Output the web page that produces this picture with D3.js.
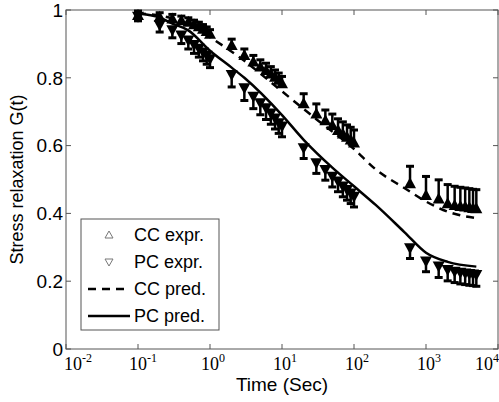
<!DOCTYPE html>
<html>
<head>
<meta charset="utf-8">
<script src="https://cdn.jsdelivr.net/npm/d3@7"></script>
<style>
  body { margin: 0; background: #fff; }
  svg { display: block; }
  text { font-family: "Liberation Sans", Arial, sans-serif; fill: #000; }
  .xtick { font-family: "Liberation Serif", "Times New Roman", serif; }
</style>
</head>
<body>
<div id="chart"></div>
<script>
// sample times (s), shared by both experiments
const times = [0.1, 0.2, 0.3, 0.4, 0.5, 0.6, 0.7, 0.8, 0.9, 1,
  2, 3, 4, 5, 6, 7, 8, 9, 10,
  20, 30, 40, 50, 60, 70, 80, 90, 100,
  600, 1000, 1500, 2000, 2500, 3000, 3500, 4000, 4500, 5000];

const ccExpr = [0.985, 0.98, 0.975, 0.97, 0.965, 0.958, 0.952, 0.945, 0.938, 0.93,
  0.897, 0.867, 0.848, 0.833, 0.823, 0.813, 0.803, 0.794, 0.784,
  0.725, 0.695, 0.675, 0.661, 0.646, 0.636, 0.626, 0.618, 0.609,
  0.489, 0.454, 0.444, 0.43, 0.425, 0.422, 0.42, 0.418, 0.416, 0.415];
const ccErr = [0.012, 0.012, 0.012, 0.012, 0.012, 0.012, 0.012, 0.012, 0.012, 0.012,
  0.017, 0.018, 0.018, 0.02, 0.02, 0.02, 0.02, 0.02, 0.02,
  0.028, 0.028, 0.03, 0.032, 0.033, 0.034, 0.035, 0.036, 0.037,
  0.05, 0.055, 0.055, 0.055, 0.055, 0.055, 0.055, 0.055, 0.055, 0.055];

const pcExpr = [0.98, 0.955, 0.94, 0.925, 0.91, 0.897, 0.886, 0.875, 0.865, 0.855,
  0.808, 0.769, 0.744, 0.725, 0.71, 0.695, 0.68, 0.666, 0.656,
  0.592, 0.548, 0.528, 0.508, 0.494, 0.479, 0.469, 0.459, 0.449,
  0.297, 0.258, 0.243, 0.233, 0.228, 0.225, 0.223, 0.221, 0.22, 0.218];
const pcErr = [0.012, 0.02, 0.022, 0.024, 0.025, 0.025, 0.025, 0.025, 0.025, 0.025,
  0.035, 0.036, 0.035, 0.034, 0.033, 0.032, 0.031, 0.03, 0.03,
  0.03, 0.03, 0.03, 0.03, 0.03, 0.03, 0.03, 0.03, 0.03,
  0.03, 0.03, 0.032, 0.032, 0.032, 0.033, 0.033, 0.033, 0.033, 0.033];

// model predictions
const ccPredT = [0.1, 0.3, 0.6, 1, 3, 10, 30, 100, 200, 500, 1000, 2000, 5000];
const ccPredG = [0.99, 0.975, 0.95, 0.92, 0.85, 0.76, 0.678, 0.59, 0.53, 0.475, 0.435, 0.405, 0.386];
const pcPredT = [0.1, 0.2, 0.3, 0.5, 1, 2, 3, 10, 20, 50, 100, 200, 500, 1000, 2000, 5000];
const pcPredG = [0.99, 0.978, 0.96, 0.94, 0.88, 0.83, 0.80, 0.69, 0.617, 0.535, 0.48, 0.425, 0.345, 0.284, 0.257, 0.243];

const xTicks = [-2, -1, 0, 1, 2, 3, 4];
const yTicks = [0, 0.2, 0.4, 0.6, 0.8, 1];
const legendLabels = ['CC expr.', 'PC expr.', 'CC pred.', 'PC pred.'];

const W = 499, H = 402;
const margin = { left: 66, right: 1, top: 10, bottom: 53 };

const svg = d3.select('#chart').append('svg')
  .attr('width', W)
  .attr('height', H);

const x = d3.scaleLog().domain([1e-2, 1e4]).range([margin.left, W - margin.right]);
const y = d3.scaleLinear().domain([0, 1]).range([H - margin.bottom, margin.top]);

const frameColor = '#555';

// frame
svg.append('rect')
  .attr('x', x.range()[0]).attr('y', y(1))
  .attr('width', x.range()[1] - x.range()[0])
  .attr('height', y(0) - y(1))
  .attr('fill', 'none')
  .attr('stroke', frameColor)
  .attr('stroke-width', 1);

// ticks pointing inward on all four sides
xTicks.forEach(e => {
  const px = x(Math.pow(10, e));
  svg.append('line').attr('x1', px).attr('x2', px).attr('y1', y(0)).attr('y2', y(0) - 5)
    .attr('stroke', frameColor);
  svg.append('line').attr('x1', px).attr('x2', px).attr('y1', y(1)).attr('y2', y(1) + 5)
    .attr('stroke', frameColor);
});
yTicks.forEach(v => {
  svg.append('line').attr('x1', x.range()[0]).attr('x2', x.range()[0] + 5).attr('y1', y(v)).attr('y2', y(v))
    .attr('stroke', frameColor);
  svg.append('line').attr('x1', x.range()[1]).attr('x2', x.range()[1] - 5).attr('y1', y(v)).attr('y2', y(v))
    .attr('stroke', frameColor);
});

// x tick labels 10^n, kept inside the figure
xTicks.forEach(e => {
  const px = x(Math.pow(10, e));
  const t = svg.append('text')
    .attr('class', 'xtick')
    .attr('y', 370)
    .style('font-size', '18px');
  t.append('tspan').text('10');
  t.append('tspan').attr('dy', -8).style('font-size', '12px').text(String(e));
  const w = t.node().getComputedTextLength();
  let lx = px - 9;
  lx = Math.max(64, Math.min(W - w, lx));
  t.attr('x', lx);
});

// y tick labels
svg.selectAll('.ytick')
  .data(yTicks)
  .enter()
  .append('text')
  .attr('class', 'ytick')
  .attr('x', x.range()[0] - 3)
  .attr('y', d => y(d))
  .attr('dy', '0.36em')
  .attr('text-anchor', 'end')
  .style('font-size', '19px')
  .text(d => d3.format('~g')(d));

// axis titles
svg.append('text')
  .attr('x', (x.range()[0] + x.range()[1]) / 2)
  .attr('y', 391)
  .attr('text-anchor', 'middle')
  .style('font-size', '19px')
  .text('Time (Sec)');
svg.append('text')
  .attr('transform', 'translate(23,' + ((y(0) + y(1)) / 2) + ') rotate(-90)')
  .attr('text-anchor', 'middle')
  .style('font-size', '18px')
  .text('Stress relaxation G(t)');

// error bars + markers
const capW = 4;
function drawSeries(vals, errs, dir) {
  const g = svg.append('g');
  times.forEach((t, i) => {
    const px = x(t), py = y(vals[i]), pe = y(vals[i] + dir * errs[i]);
    g.append('line').attr('x1', px).attr('x2', px).attr('y1', py).attr('y2', pe)
      .attr('stroke', '#000').attr('stroke-width', 2.5);
    g.append('line').attr('x1', px - capW).attr('x2', px + capW).attr('y1', pe).attr('y2', pe)
      .attr('stroke', '#000').attr('stroke-width', 3);
  });
  g.selectAll('path')
    .data(times)
    .enter()
    .append('path')
    .attr('fill', '#000')
    .attr('d', (t, i) => {
      const px = x(t), py = y(vals[i]);
      // dir 1 => up triangle, -1 => down triangle
      return 'M' + (px - 6) + ',' + (py + 5 * dir) +
        'L' + (px + 6) + ',' + (py + 5 * dir) +
        'L' + px + ',' + (py - 6 * dir) + 'Z';
    });
}
drawSeries(ccExpr, ccErr, 1);
drawSeries(pcExpr, pcErr, -1);

// prediction curves
const line = d3.line()
  .x(d => x(d[0]))
  .y(d => y(d[1]))
  .curve(d3.curveMonotoneX);

svg.append('path')
  .datum(ccPredT.map((t, i) => [t, ccPredG[i]]))
  .attr('fill', 'none')
  .attr('stroke', '#000')
  .attr('stroke-width', 2.5)
  .attr('stroke-dasharray', '8,6')
  .attr('d', line);
svg.append('path')
  .datum(pcPredT.map((t, i) => [t, pcPredG[i]]))
  .attr('fill', 'none')
  .attr('stroke', '#000')
  .attr('stroke-width', 2.5)
  .attr('d', line);

// legend
const lg = svg.append('g');
lg.append('rect')
  .attr('x', 81).attr('y', 219)
  .attr('width', 138).attr('height', 111)
  .attr('fill', '#fff')
  .attr('stroke', frameColor);

const rowY = [235, 262, 289, 316];
legendLabels.forEach((lab, i) => {
  const cy = rowY[i];
  lg.append('text')
    .attr('x', 134).attr('y', cy)
    .attr('dy', '0.36em')
    .style('font-size', '18px')
    .text(lab);
  if (i === 0) {
    lg.append('path').attr('d', `M${105},${cy + 3}L${113},${cy + 3}L${109},${cy - 4}Z`)
      .attr('fill', 'none').attr('stroke', '#777').attr('stroke-width', 1);
  } else if (i === 1) {
    lg.append('path').attr('d', `M${105},${cy - 3}L${113},${cy - 3}L${109},${cy + 4}Z`)
      .attr('fill', 'none').attr('stroke', '#777').attr('stroke-width', 1);
  } else {
    lg.append('line').attr('x1', 88).attr('x2', 130).attr('y1', cy).attr('y2', cy)
      .attr('stroke', '#000').attr('stroke-width', 2.5)
      .attr('stroke-dasharray', i === 2 ? '8,6' : null);
  }
});
</script>
</body>
</html>
